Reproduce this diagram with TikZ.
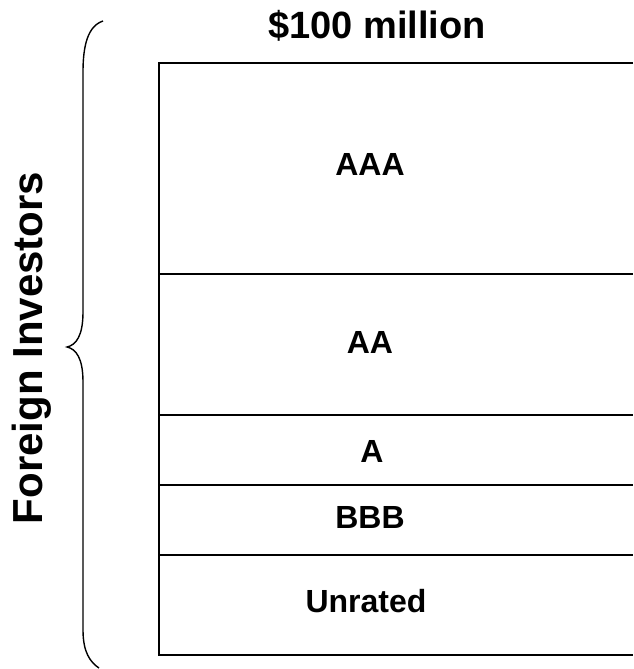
\documentclass[tikz,border=0pt]{standalone}
\usepackage{fontspec}
\setmainfont{Liberation Sans}
\usepackage{tikz}
\usetikzlibrary{positioning,calc}

\begin{document}
\begin{tikzpicture}[
    x=1pt, y=-1pt,
    rule/.style={line width=1.8pt},
    tranche/.style={anchor=base, inner sep=0pt, font=\fontsize{32}{38}\selectfont\bfseries},
    heading/.style={anchor=base, inner sep=0pt, font=\fontsize{38}{44}\selectfont\bfseries}
]
\useasboundingbox (0,0) rectangle (633,669);

% outline of the stack
\coordinate (tl) at (159,63);
\coordinate (bl) at (159,655);
\draw[rule] (633,63) -- (tl) -- (bl) -- (633,655);
\foreach \yy in {274,415,485,555}
    \draw[rule] (159,\yy) -- (633,\yy);

% tranche labels
\node[tranche] (aaa) at (370,175) {AAA};
\node[tranche] (aa)  at (370,353) {AA};
\node[tranche] (a)   at (372,462) {A};
\node[tranche] (bbb) at (370,528) {BBB};
\node[tranche] (unr) at (366,612) {Unrated};

\node[heading] (total) at (377,38) {\$100 million};

% brace and side label
\draw[line width=1.4pt] (103,21) .. controls (88,26) and (83,45) .. (83,72)
    -- (83,312) .. controls (83,336) and (76,345) .. (67,347)
    .. controls (76,349) and (83,358) .. (83,382)
    -- (83,630) .. controls (83,652) and (90,662) .. (99,668);
\node[rotate=90, inner sep=0pt, font=\fontsize{42}{48}\selectfont\bfseries] (inv) at (32,348) {Foreign Investors};
\end{tikzpicture}
\end{document}
